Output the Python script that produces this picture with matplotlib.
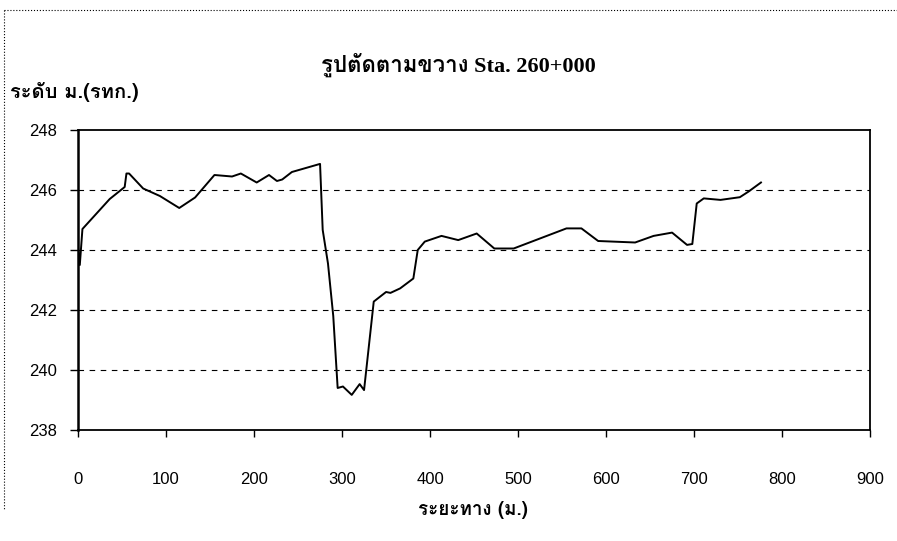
import matplotlib
matplotlib.use("Agg")
import matplotlib.pyplot as plt
from matplotlib import font_manager
from matplotlib.ft2font import FT2Font
from matplotlib.lines import Line2D

distance = [0, 2, 5, 36, 53, 55, 58, 74, 93, 115, 133, 155, 175, 185, 203,
            217, 226, 232, 243, 275, 278, 284, 290, 295, 301, 311, 320, 325,
            336, 350, 355, 366, 381, 386, 394, 413, 432, 453, 473, 495, 555,
            572, 591, 633, 654, 675, 692, 698, 703, 711, 730, 752, 762, 776]
level = [244.1, 243.5, 244.7, 245.7, 246.1, 246.55, 246.55, 246.05, 245.8,
         245.4, 245.75, 246.5, 246.45, 246.55, 246.25, 246.5, 246.3, 246.35,
         246.6, 246.87, 244.67, 243.55, 241.8, 239.4, 239.45, 239.17, 239.53,
         239.33, 242.28, 242.6, 242.57, 242.72, 243.05, 244.0, 244.28, 244.47,
         244.33, 244.55, 244.05, 244.05, 244.72, 244.72, 244.3, 244.25, 244.47,
         244.58, 244.17, 244.2, 245.55, 245.72, 245.67, 245.76, 245.95, 246.25]

x_ticks = [0, 100, 200, 300, 400, 500, 600, 700, 800, 900]
y_ticks = [238, 240, 242, 244, 246, 248]

title = "รูปตัดตามขวาง Sta. 260+000"
x_label = "ระยะทาง (ม.)"
y_label = "ระดับ ม.(รทก.)"


def find_thai_font():
    for f in font_manager.fontManager.ttflist:
        try:
            if 0x0E23 in FT2Font(f.fname).get_charmap():
                return f.name
        except Exception:
            pass
    return "DejaVu Sans"


thai = find_thai_font()

fig = plt.figure(figsize=(8.97, 5.41), dpi=100)
ax = fig.add_axes([0.087, 0.2052, 0.883, 0.5545])

ax.plot(distance, level, color="black", linewidth=1.4)

ax.set_xlim(0, 900)
ax.set_ylim(238, 248)
ax.set_xticks(x_ticks)
ax.set_yticks(y_ticks)
ax.set_xticklabels([str(t) for t in x_ticks], family="Liberation Sans", fontsize=12)
ax.set_yticklabels([str(t) for t in y_ticks], family="Liberation Sans", fontsize=12)
ax.tick_params(axis="x", direction="out", length=5, width=1, pad=25)
ax.tick_params(axis="y", direction="out", length=6, width=1, pad=9)

for v in y_ticks[1:-1]:
    ax.axhline(v, color="black", linewidth=0.8, dashes=(5, 5))

for s in ax.spines.values():
    s.set_linewidth(1.3)
    s.set_color("black")
ax.spines["left"].set_linewidth(1.8)

fig.text(0.511, 1 - 65 / 541, title, ha="center", va="center",
         family=["Liberation Serif", thai], fontweight="bold", fontsize=16)
fig.text(0.527, 1 - 510 / 541, x_label, ha="center", va="center",
         family=[thai, "DejaVu Sans"], fontweight="bold", fontsize=13.5)
fig.text(10 / 897, 1 - 92 / 541, y_label, ha="left", va="center",
         family=[thai, "DejaVu Sans"], fontweight="bold", fontsize=14.5)

# outer chart frame (only top and left edges are in the scan)
fig.add_artist(Line2D([4 / 897, 1], [1 - 10 / 541, 1 - 10 / 541],
                      transform=fig.transFigure, color="black", linewidth=0.8, linestyle=":"))
fig.add_artist(Line2D([4 / 897, 4 / 897], [1 - 10 / 541, 1 - 510 / 541],
                      transform=fig.transFigure, color="black", linewidth=0.8, linestyle=":"))

fig.savefig("out.png", dpi=100)
